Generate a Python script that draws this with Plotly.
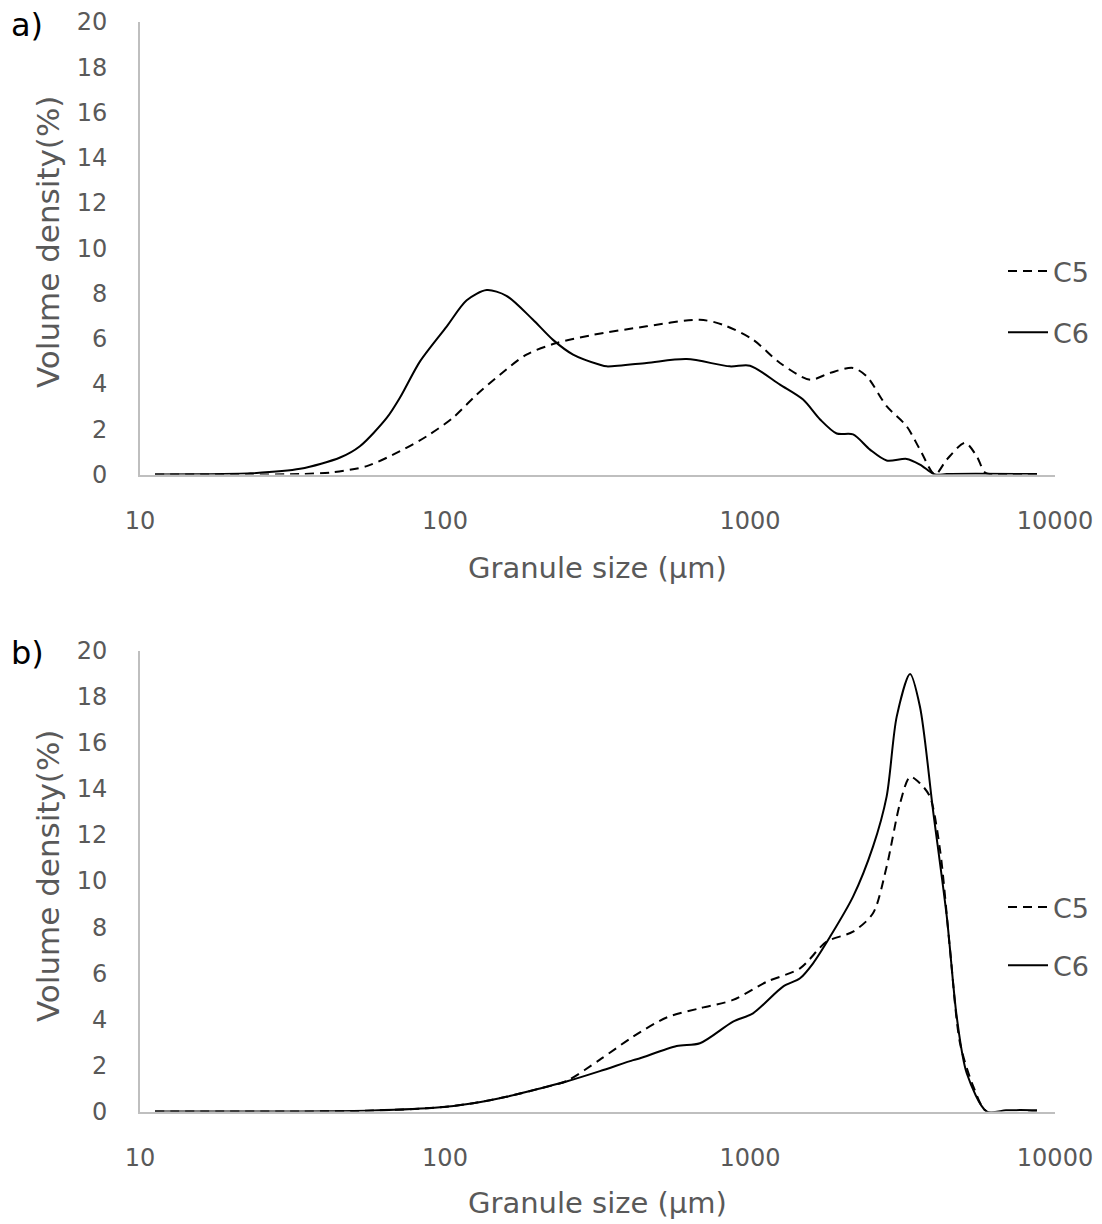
import plotly.graph_objects as go

# ---------------- data ----------------
# Panel a)
a_c5_size = [11.2, 23, 33.5, 43, 55.4, 71.2, 87.1, 106, 127, 151.4, 185, 232, 300, 458, 685, 815,
             1023, 1254, 1574, 1830, 2177, 2414, 2805, 3264, 3608, 4043, 4418, 5072, 5536, 5893, 6300, 8730]
a_c5_dens = [0, 0, 0.02, 0.1, 0.37, 1.03, 1.69, 2.5, 3.53, 4.41, 5.3, 5.81, 6.15, 6.55, 6.84, 6.62,
             5.96, 4.93, 4.19, 4.49, 4.71, 4.34, 3.02, 2.13, 1.1, 0, 0.66, 1.4, 0.81, 0.09, 0, 0]

a_c6_size = [11.2, 15.7, 23, 33.5, 45.3, 52.6, 64.4, 71.2, 82.8, 101.4, 117.8, 137, 159, 194, 226, 263,
             322, 339, 458, 620, 859, 1000, 1254, 1493, 1698, 1924, 2177, 2474, 2805, 3264, 3608, 4043,
             4418, 5500, 8730]
a_c6_dens = [0, 0.01, 0.05, 0.25, 0.75, 1.25, 2.5, 3.4, 5.0, 6.55, 7.7, 8.15, 7.9, 6.85, 5.95, 5.3,
             4.85, 4.78, 4.93, 5.1, 4.78, 4.81, 3.97, 3.31, 2.43, 1.81, 1.77, 1.1, 0.62, 0.69, 0.44, 0,
             0.02, 0.03, 0.02]

# Panel b)
b_c5_size = [11.2, 33.5, 58, 96.4, 123.6, 159, 205, 250, 322, 414, 533, 685, 880, 1135, 1459, 1784,
             2177, 2531, 2805, 3104, 3348, 3608, 3890, 4198, 4529, 4883, 5400, 5972, 8730]
b_c5_dens = [0, 0, 0.04, 0.18, 0.36, 0.64, 1.0, 1.32, 2.25, 3.25, 4.08, 4.48, 4.84, 5.63, 6.21, 7.37,
             7.8, 8.6, 10.62, 13.37, 14.52, 14.24, 13.66, 11.35, 7.0, 2.96, 1.08, 0, 0]

b_c6_size = [11.2, 33.5, 58, 96.4, 123.6, 159, 205, 250, 322, 414, 436, 575, 685, 880, 1023, 1283,
             1459, 1610, 1830, 2177, 2531, 2805, 3027, 3348, 3608, 3981, 4418, 4762, 5136, 5972, 6905,
             7674, 8730]
b_c6_dens = [0, 0, 0.04, 0.18, 0.36, 0.64, 1.0, 1.3, 1.75, 2.23, 2.31, 2.84, 2.96, 3.9, 4.26, 5.42,
             5.78, 6.43, 7.58, 9.32, 11.49, 13.66, 17.13, 18.98, 17.56, 13.08, 8.45, 4.11, 1.66, 0, 0.05,
             0.06, 0.05]

x_tickvals = [10, 100, 1000, 10000]
x_ticktext = ["10", "100", "1000", "10000"]
y_tickvals = list(range(0, 21, 2))
series_names = ["C5", "C6"]
panel_labels = ["a)", "b)"]
x_title = "Granule size (µm)"
y_title = "Volume density(%)"

# ---------------- styling ----------------
W, H = 1102, 1224
FONT = "DejaVu Sans"
TICK_COLOR = "#595959"
AXIS_COLOR = "#BFBFBF"
DASH = "9px,6px"

fig = go.Figure()

def add_pair(c5x, c5y, c6x, c6y, xa, ya, legend):
    fig.add_trace(go.Scatter(x=c5x, y=c5y, name=series_names[0], mode="lines",
                             line=dict(color="black", width=2, dash=DASH, shape="spline", smoothing=0.8),
                             xaxis=xa, yaxis=ya, legend=legend, legendgroup=legend + "c5"))
    fig.add_trace(go.Scatter(x=c6x, y=c6y, name=series_names[1], mode="lines",
                             line=dict(color="black", width=2, shape="spline", smoothing=0.8),
                             xaxis=xa, yaxis=ya, legend=legend, legendgroup=legend + "c6"))

add_pair(a_c5_size, a_c5_dens, a_c6_size, a_c6_dens, "x", "y", "legend")
add_pair(b_c5_size, b_c5_dens, b_c6_size, b_c6_dens, "x2", "y2", "legend2")

x_dom = [140 / W, 1055 / W]
ya_dom = [1 - 474.5 / H, 1 - 22 / H]
yb_dom = [1 - 1111.5 / H, 1 - 650.5 / H]

def xaxis(anchor):
    return dict(type="log", range=[1, 4], domain=x_dom, anchor=anchor, automargin=False,
                tickvals=x_tickvals, ticktext=x_ticktext,
                showline=True, linecolor=AXIS_COLOR, linewidth=2,
                showgrid=False, zeroline=False, ticks="",
                ticklabelstandoff=24,
                tickfont=dict(family=FONT, size=24, color=TICK_COLOR))

def yaxis(anchor, dom):
    return dict(range=[0, 20], domain=dom, anchor=anchor, tickvals=y_tickvals, automargin=False,
                showline=True, linecolor=AXIS_COLOR, linewidth=2,
                showgrid=False, zeroline=False, ticks="",
                ticklabelstandoff=26,
                tickfont=dict(family=FONT, size=24, color=TICK_COLOR))

def legend(ytop, gap):
    return dict(x=1003 / W, xanchor="left", y=1 - ytop / H, yanchor="top",
                font=dict(family=FONT, size=27, color=TICK_COLOR),
                bgcolor="rgba(0,0,0,0)", tracegroupgap=gap, itemwidth=40)

annotations = []
for lab, ycen in zip(panel_labels, [25, 653]):
    annotations.append(dict(text=lab, x=27 / W, y=1 - ycen / H, xref="paper", yref="paper",
                            showarrow=False, xanchor="center", yanchor="middle",
                            font=dict(family=FONT, size=32, color="black")))
for ycen in [568, 1203]:
    annotations.append(dict(text=x_title, x=597 / W, y=1 - ycen / H, xref="paper", yref="paper",
                            showarrow=False, xanchor="center", yanchor="middle",
                            font=dict(family=FONT, size=29, color=TICK_COLOR)))
for ycen in [242, 876]:
    annotations.append(dict(text=y_title, x=48 / W, y=1 - ycen / H, xref="paper", yref="paper",
                            showarrow=False, xanchor="center", yanchor="middle", textangle=-90,
                            font=dict(family=FONT, size=31, color=TICK_COLOR)))

fig.update_layout(
    width=W, height=H, margin=dict(l=0, r=0, t=0, b=0),
    paper_bgcolor="white", plot_bgcolor="white",
    xaxis=xaxis("y"), yaxis=yaxis("x", ya_dom),
    xaxis2=xaxis("y2"), yaxis2=yaxis("x2", yb_dom),
    legend=legend(247, 23), legend2=legend(883, 20),
    annotations=annotations, showlegend=True,
)

fig.write_html("out.html")
